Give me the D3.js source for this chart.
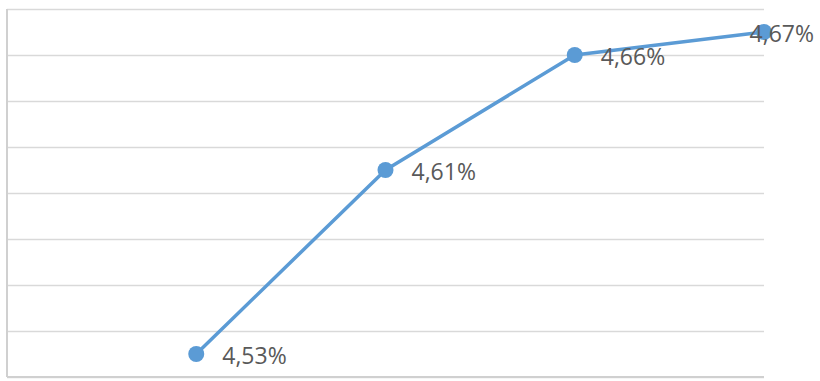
<!DOCTYPE html>
<html>
<head>
<meta charset="utf-8">
<script src="https://cdn.jsdelivr.net/npm/d3@7"></script>
<style>
  html, body { margin: 0; padding: 0; background: #fff; }
  svg { display: block; }
</style>
</head>
<body>
<div id="chart"></div>
<script>
/* Line chart with data labels */

// the first category has no value, the axis has no labels
const categories = ["c0", "c1", "c2", "c3", "c4"];
const values = [null, 4.53, 4.61, 4.66, 4.67];
const yTicks = [4.52, 4.54, 4.56, 4.58, 4.60, 4.62, 4.64, 4.66, 4.68];

const data = categories.map((c, i) => ({ key: c, value: values[i] }));
const points = data.filter(d => d.value != null);

const width = 820,
      height = 381,
      margin = ({ top: 9, right: 56, bottom: 4, left: 7 });

let svg = d3.select("#chart")
    .append("svg")
    .attr("width", width)
    .attr("height", height);

let x = d3.scalePoint()
    .domain(categories)
    .range([margin.left, width - margin.right]);

let y = d3.scaleLinear()
    .domain([4.52, 4.68])
    .range([height - margin.bottom, margin.top]);

// gridlines
svg.append("g")
    .attr("transform", `translate(${margin.left},0)`)
    .call(d3.axisLeft(y).tickValues(yTicks).tickSize(-(width - margin.right - margin.left)).tickFormat(""))
    .call(g => g.select(".domain").remove())
    .call(g => g.selectAll("line").attr("stroke", "#d9d9d9").attr("stroke-width", 1.6));

// axis lines
svg.append("line")
    .attr("x1", margin.left).attr("x2", margin.left)
    .attr("y1", y(4.68)).attr("y2", y(4.52))
    .attr("stroke", "#d0d0d0").attr("stroke-width", 2);

svg.append("line")
    .attr("x1", margin.left).attr("x2", width - margin.right)
    .attr("y1", y(4.52)).attr("y2", y(4.52))
    .attr("stroke", "#d0d0d0").attr("stroke-width", 2);

let line = d3.line()
    .x(d => x(d.key))
    .y(d => y(d.value));

svg.append("path")
    .datum(points)
    .attr("fill", "none")
    .attr("stroke", "#5b9bd5")
    .attr("stroke-width", 3.5)
    .attr("stroke-linejoin", "round")
    .attr("d", line);

svg.selectAll(".dot")
    .data(points)
    .join("circle")
    .attr("class", "dot")
    .attr("cx", d => x(d.key))
    .attr("cy", d => y(d.value))
    .attr("r", 8)
    .attr("fill", "#5b9bd5");

const fmt = v => d3.format(".2f")(v).replace(".", ",") + "%";

svg.selectAll(".label")
    .data(points)
    .join("text")
    .attr("class", "label")
    .text(d => fmt(d.value))
    .attr("y", d => y(d.value) + 1)
    .attr("dominant-baseline", "central")
    .style("font-family", "'Open Sans', sans-serif")
    .style("font-size", "23px")
    .style("fill", "#595959")
    .attr("x", function(d) {
        const w = this.getComputedTextLength();
        return Math.min(x(d.key) + 26, width - 6 - w);
    });
</script>
</body>
</html>
